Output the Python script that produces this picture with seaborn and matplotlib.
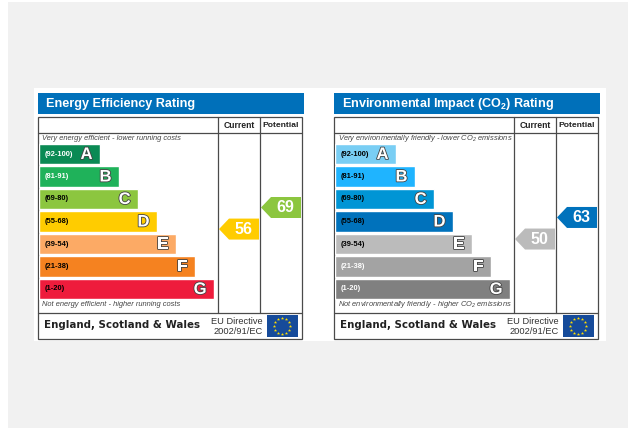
import numpy as np
import pandas as pd
import seaborn as sns
import matplotlib.pyplot as plt
import matplotlib.patheffects as pe
from matplotlib.patches import Rectangle

W, H = 628, 428
bands = ["A", "B", "C", "D", "E", "F", "G"]
ranges = ["(92-100)", "(81-91)", "(69-80)", "(55-68)", "(39-54)", "(21-38)", "(1-20)"]
band_lengths = [61, 80, 99, 118, 137, 156, 175]

energy_colors = ["#0a8a54", "#1fb25a", "#8cc63f", "#ffcc00", "#fcaa65", "#f58220", "#ee1c3c"]
env_colors = ["#79cef4", "#1fb4ff", "#0095d5", "#0072bc", "#bbbbbb", "#a3a3a3", "#808080"]
energy_range_colors = ["white", "white", "black", "black", "black", "black", "black"]
env_range_colors = ["black", "black", "black", "black", "black", "white", "white"]
band_lows = [92, 81, 69, 55, 39, 21, 1]

energy_scores = [56, 69]
env_scores = [50, 63]

sns.set_theme(style="white")
plt.rcParams["font.family"] = ["Liberation Sans", "DejaVu Sans"]
plt.rcParams["mathtext.default"] = "regular"

BLUE = "#0070ba"
LINE = "#4a4a4a"

fig = plt.figure(figsize=(W / 100, H / 100), dpi=100, facecolor="white")


def px_axes(x0, y0, x1, y1):
    a = fig.add_axes([x0 / W, 1 - y1 / H, (x1 - x0) / W, (y1 - y0) / H])
    a.patch.set_alpha(0)
    a.axis("off")
    return a


bg = px_axes(0, 0, W, H)
bg.set_xlim(0, W)
bg.set_ylim(H, 0)
bg.add_patch(Rectangle((8, 2), W - 8, H - 2, color="#f1f1f1", lw=0))
bg.add_patch(Rectangle((34, 88), 572, 253, color="white", lw=0))


def band_color(score, colors):
    for low, c in zip(band_lows, colors):
        if score >= low:
            return c
    return colors[-1]


def panel(x0, title, top_note, bottom_note, colors, range_colors, scores):
    xa, xb, xr = x0 + 180, x0 + 222, x0 + 264
    # header + frame
    bg.add_patch(Rectangle((x0, 93), 266, 21, color=BLUE, lw=0))
    bg.text(x0 + 8, 103.5, title, color="white", fontsize=9.1, fontweight="bold", va="center")
    bg.add_patch(Rectangle((x0, 117), xr - x0, 221.5, fc="none", ec=LINE, lw=0.9))
    bg.plot([x0, xr], [133, 133], color=LINE, lw=0.9)
    bg.plot([x0, xr], [313, 313], color=LINE, lw=0.9)
    bg.plot([xa, xa], [117, 313], color=LINE, lw=0.9)
    bg.plot([xb, xb], [117, 313], color=LINE, lw=0.9)
    bg.text((xa + xb) / 2, 125, "Current", fontsize=6.2, fontweight="bold", ha="center",
            va="center", color="#222222")
    bg.text((xb + xr) / 2, 125, "Potential", fontsize=6.1, fontweight="bold", ha="center",
            va="center", color="#222222")
    bg.text(x0 + 4, 139, top_note, fontsize=5.45, style="italic", color="#444444", va="center")
    bg.text(x0 + 4, 305, bottom_note, fontsize=5.45, style="italic", color="#444444", va="center")

    # rating bars
    ax = px_axes(x0 + 0.5, 142.75, x0 + 180, 300.25)
    df = pd.DataFrame({"band": bands, "length": band_lengths})
    sns.barplot(data=df, x="length", y="band", hue="band", palette=colors, order=bands,
                hue_order=bands, width=0.89, legend=False, saturation=1, ax=ax, orient="h")
    ax.set_xlim(0, 179.5)
    ax.set_ylim(6.5, -0.5)
    ax.axis("off")
    for i, (length, band) in enumerate(zip(band_lengths, bands)):
        ax.text(6, i, ranges[i], fontsize=5.4, fontweight="bold", color=range_colors[i], va="center")
        ax.text(length - 7, i + 0.02, band, fontsize=12, fontweight="bold", color="white",
                ha="right", va="center",
                path_effects=[pe.withStroke(linewidth=1.2, foreground="#444444")])

    # score tags, on a score scale shared by both columns
    tag = px_axes(x0, 133, xr, 313)
    tag.set_xlim(x0, xr)
    tag.set_ylim(69 - (313 - 207.5) / 1.66, 69 + (207.5 - 133) / 1.66)
    half = 10.5 / 1.66
    for score, left in zip(scores, (xa + 1, xb + 1)):
        right = left + 40
        tag.fill([left, left + 10, right, right, left + 10],
                 [score, score + half, score + half, score - half, score - half],
                 color=band_color(score, colors), lw=0)
        tag.text(left + 24.5, score - 0.2, str(score), color="white", fontsize=11.5,
                 fontweight="bold", ha="center", va="center")

    # footer
    bg.text(x0 + 6, 325.5, "England, Scotland & Wales", family="DejaVu Sans", fontweight="bold",
            fontsize=7.4, color="#222222", va="center")
    bg.text(x0 + 224.5, 321, "EU Directive", fontsize=6.7, color="#333333", ha="right", va="center")
    bg.text(x0 + 224.5, 331.5, "2002/91/EC", fontsize=6.7, color="#333333", ha="right", va="center")
    bg.add_patch(Rectangle((x0 + 228.5, 315), 31, 22, color="#164b9a", lw=0))
    ang = np.linspace(0, 2 * np.pi, 12, endpoint=False)
    bg.scatter(x0 + 244 + 8.2 * np.cos(ang), 326 + 8.2 * np.sin(ang), marker="*", s=6,
               color="#ffdd00", lw=0, zorder=3)


panel(38, "Energy Efficiency Rating", "Very energy efficient - lower running costs",
      "Not energy efficient - higher running costs", energy_colors, energy_range_colors,
      energy_scores)
panel(334, "Environmental Impact (CO$_2$) Rating", "Very environmentally friendly - lower CO$_2$ emissions",
      "Not environmentally friendly - higher CO$_2$ emissions", env_colors, env_range_colors,
      env_scores)

fig.savefig("out.png", dpi=100)
